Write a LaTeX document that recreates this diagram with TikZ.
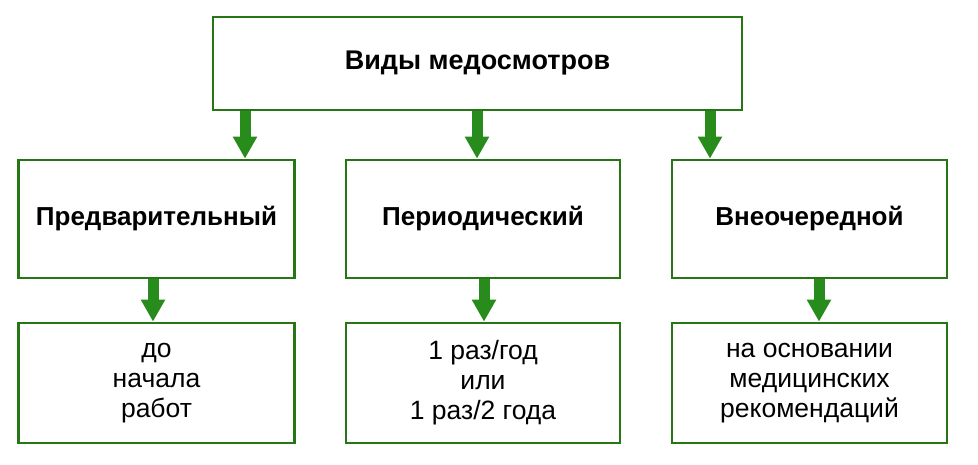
\documentclass[tikz,border=0pt]{standalone}
\usepackage{fontspec}
\setmainfont{Liberation Sans}
\usetikzlibrary{arrows.meta}
\definecolor{boxgreen}{RGB}{38,118,22}
\definecolor{arrgreen}{RGB}{40,140,28}
\tikzset{
  box/.style={draw=boxgreen, line width=2.8pt, fill=white, rectangle, align=center, inner sep=0pt},
  headtext/.style={font=\fontsize{26}{30}\selectfont\bfseries},
  titletext/.style={font=\fontsize{27}{30}\selectfont\bfseries},
  bodytext/.style={font=\fontsize{26.5}{30}\selectfont},
  fatarrow/.style={draw=arrgreen, line width=11pt, -{Triangle[width=23pt,length=22pt]}, arrgreen}
}
\begin{document}
\begin{tikzpicture}[x=1pt,y=-1pt]
\useasboundingbox (0,0) rectangle (978,464);
\fill[white] (0,0) rectangle (978,464);
\node[box, titletext, minimum width=529pt, minimum height=93pt] (top) at (477.5,63.5) {Виды медосмотров};
\node[box, headtext, minimum width=276pt, minimum height=118pt] (m1) at (156.5,219) {Предварительный};
\node[box, headtext, minimum width=274pt, minimum height=118pt] (m2) at (483,219) {Периодический};
\node[box, headtext, minimum width=275pt, minimum height=118pt] (m3) at (809.5,219) {Внеочередной};
\node[box, bodytext, minimum width=276pt, minimum height=120pt] (b1) at (156.5,383) {до\\начала\\работ};
\node[box, bodytext, minimum width=274pt, minimum height=120pt] (b2) at (483,383) {1 раз/год\\или\\1 раз/2 года};
\node[box, bodytext, minimum width=275pt, minimum height=120pt] (b3) at (809.5,383) {на основании\\медицинских\\рекомендаций};
\coordinate (t1) at (245,0);
\coordinate (t2) at (477,0);
\coordinate (t3) at (710,0);
\draw[fatarrow] (top.south -| t1) -- (m1.north -| t1);
\draw[fatarrow] (top.south -| t2) -- (m2.north -| t2);
\draw[fatarrow] (top.south -| t3) -- (m3.north -| t3);
\coordinate (u1) at (153,0);
\coordinate (u2) at (484,0);
\coordinate (u3) at (819,0);
\draw[fatarrow] (m1.south -| u1) -- (b1.north -| u1);
\draw[fatarrow] (m2.south -| u2) -- (b2.north -| u2);
\draw[fatarrow] (m3.south -| u3) -- (b3.north -| u3);
\end{tikzpicture}
\end{document}
